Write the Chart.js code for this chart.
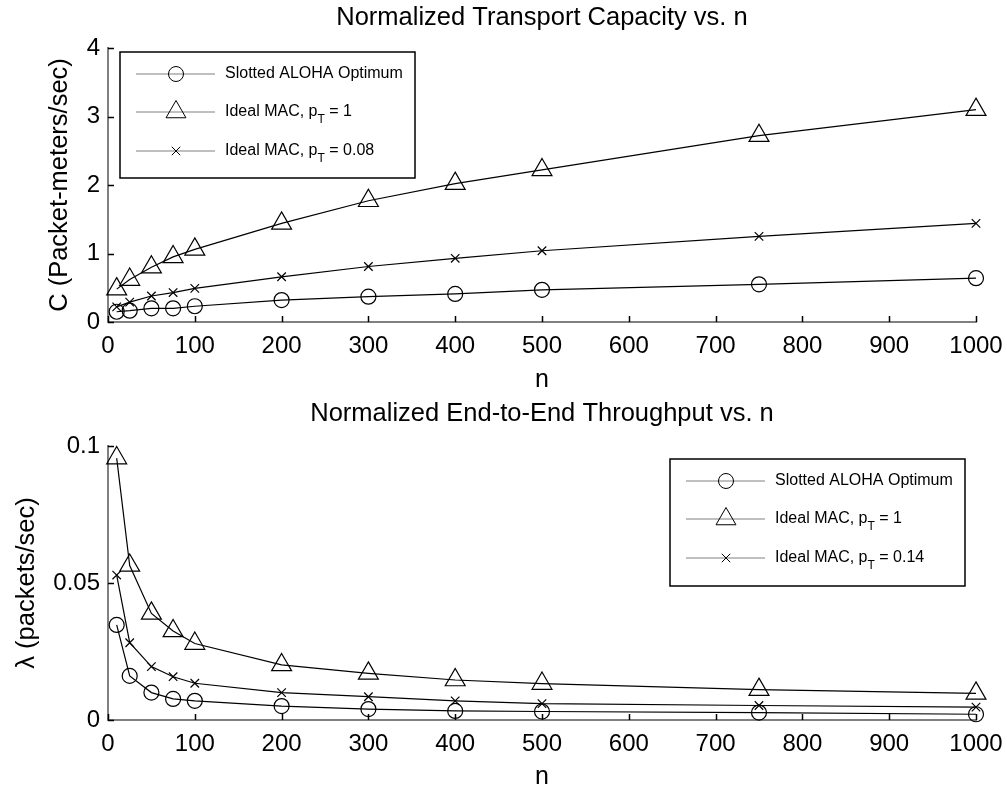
<!DOCTYPE html>
<html>
<head>
<meta charset="utf-8">
<title>Normalized Transport Capacity and Throughput vs. n</title>
<script src="https://cdn.jsdelivr.net/npm/chart.js@4.4.1/dist/chart.umd.min.js"></script>
<style>
    body { margin: 0; background: #ffffff; }
    #wrap { position: relative; width: 1007px; height: 790px; overflow: hidden; }
    canvas { position: absolute; left: 0; }
    #capChart { top: 0; }
    #thrChart { top: 398px; }
</style>
</head>
<body>
<div id="wrap">
    <canvas id="capChart" width="1007" height="395"></canvas>
    <canvas id="thrChart" width="1007" height="392"></canvas>
</div>
<script>
'use strict';

// number of nodes
const nValues = [10, 25, 50, 75, 100, 200, 300, 400, 500, 750, 1000];

// transport capacity (packet-meters/sec)
const capAloha = [0.15, 0.165, 0.20, 0.20, 0.23, 0.32, 0.37, 0.41, 0.47, 0.55, 0.64];
const capIdeal1 = [0.48, 0.62, 0.80, 0.95, 1.06, 1.44, 1.77, 2.02, 2.22, 2.72, 3.10];
const capIdeal008 = [0.22, 0.29, 0.38, 0.43, 0.49, 0.66, 0.81, 0.93, 1.04, 1.25, 1.44];

// end-to-end throughput (packets/sec)
const thrAloha = [0.0347, 0.0161, 0.0100, 0.0077, 0.0070, 0.0051, 0.0040, 0.0033, 0.0031, 0.0027, 0.0021];
const thrIdeal1 = [0.0956, 0.0564, 0.0389, 0.0325, 0.0279, 0.0201, 0.0170, 0.0146, 0.0133, 0.0111, 0.0097];
const thrIdeal014 = [0.0529, 0.0282, 0.0195, 0.0158, 0.0134, 0.0100, 0.0085, 0.0070, 0.0060, 0.0053, 0.0047];

// tick labels
const nTicks = [0, 100, 200, 300, 400, 500, 600, 700, 800, 900, 1000];
const capTicks = [0, 1, 2, 3, 4];
const thrTicks = [0, 0.05, 0.1];

// legend entries: [main text, subscript, rest]
const capLegend = [['Slotted ALOHA Optimum', '', ''], ['Ideal MAC, p', 'T', ' = 1'], ['Ideal MAC, p', 'T', ' = 0.08']];
const thrLegend = [['Slotted ALOHA Optimum', '', ''], ['Ideal MAC, p', 'T', ' = 1'], ['Ideal MAC, p', 'T', ' = 0.14']];

const FONT = 'Liberation Sans, Arial, Helvetica, sans-serif';
const markerStyles = [
    {style: 'circle', radius: 7.5},
    {style: 'triangle', radius: 11.5},
    {style: 'crossRot', radius: 6}
];

function toPoints(values) {
    return values.map((v, i) => ({x: nValues[i], y: v}));
}

function makeDataset(values, idx) {
    return {
        data: toPoints(values),
        borderColor: '#000000',
        borderWidth: 1.2,
        pointStyle: markerStyles[idx].style,
        pointRadius: markerStyles[idx].radius,
        pointHoverRadius: markerStyles[idx].radius,
        pointBorderColor: '#000000',
        pointBackgroundColor: 'rgba(0,0,0,0)',
        pointBorderWidth: 1.2,
        tension: 0,
        clip: false
    };
}

// small marker drawing for the legend
function drawMarker(ctx, style, x, y, r) {
    ctx.beginPath();
    if (style === 'circle') {
        ctx.arc(x, y, r, 0, Math.PI * 2);
    } else if (style === 'triangle') {
        let rad = 0;
        ctx.moveTo(x + Math.sin(rad) * r, y - Math.cos(rad) * r);
        rad += Math.PI * 2 / 3;
        ctx.lineTo(x + Math.sin(rad) * r, y - Math.cos(rad) * r);
        rad += Math.PI * 2 / 3;
        ctx.lineTo(x + Math.sin(rad) * r, y - Math.cos(rad) * r);
        ctx.closePath();
    } else {
        let d = Math.cos(Math.PI / 4) * r;
        ctx.moveTo(x - d, y - d);
        ctx.lineTo(x + d, y + d);
        ctx.moveTo(x + d, y - d);
        ctx.lineTo(x - d, y + d);
    }
    ctx.stroke();
}

// ticks pointing into the plot, like the original figure
const innerTicks = {
    id: 'innerTicks',
    afterDraw(chart) {
        const ctx = chart.ctx;
        const area = chart.chartArea;
        ctx.save();
        ctx.strokeStyle = '#000000';
        ctx.lineWidth = 1.5;
        ctx.beginPath();
        for (let t of chart.scales.x.ticks) {
            let px = Math.round(chart.scales.x.getPixelForValue(t.value)) + 0.5;
            ctx.moveTo(px, area.bottom);
            ctx.lineTo(px, area.bottom - 6);
        }
        for (let t of chart.scales.y.ticks) {
            let py = Math.round(chart.scales.y.getPixelForValue(t.value)) + 0.5;
            ctx.moveTo(area.left, py);
            ctx.lineTo(area.left + 6, py);
        }
        ctx.stroke();
        ctx.restore();
    }
};

// boxed legend inside the plot with subscripts
const boxLegend = {
    id: 'boxLegend',
    afterDraw(chart, args, opts) {
        const ctx = chart.ctx;
        const box = opts.box;
        const rows = [22, 60, 99];
        ctx.save();
        ctx.fillStyle = '#ffffff';
        ctx.fillRect(box.x, box.y, box.w, box.h);
        ctx.strokeStyle = '#000000';
        ctx.lineWidth = 1.5;
        ctx.strokeRect(box.x, box.y, box.w, box.h);

        opts.entries.forEach((entry, i) => {
            let y = box.y + rows[i];
            ctx.strokeStyle = '#808080';
            ctx.lineWidth = 1;
            ctx.beginPath();
            ctx.moveTo(box.x + 16, y);
            ctx.lineTo(box.x + 95, y);
            ctx.stroke();
            ctx.strokeStyle = '#000000';
            drawMarker(ctx, markerStyles[i].style, box.x + 56, y, markerStyles[i].radius);

            ctx.fillStyle = '#000000';
            ctx.textBaseline = 'middle';
            ctx.textAlign = 'left';
            let x = box.x + 105;
            ctx.font = '16px ' + FONT;
            ctx.fillText(entry[0], x, y);
            x += ctx.measureText(entry[0]).width;
            if (entry[1]) {
                ctx.font = '12px ' + FONT;
                ctx.fillText(entry[1], x, y + 8);
                x += ctx.measureText(entry[1]).width;
                ctx.font = '16px ' + FONT;
                ctx.fillText(entry[2], x, y);
            }
        });
        ctx.restore();
    }
};

function draw_chart(canvas_id, seriesList, cfg) {
    let ctx = document.getElementById(canvas_id).getContext('2d');
    return new Chart(ctx, {
        type: 'line',
        data: {
            datasets: seriesList.map((s, i) => makeDataset(s, i))
        },
        options: {
            responsive: false,
            animation: false,
            events: [],
            layout: {padding: {left: 0, right: 31, top: 0, bottom: 0}},
            plugins: {
                legend: {display: false},
                tooltip: {enabled: false},
                title: {
                    display: true,
                    fullSize: false,
                    text: cfg.title,
                    color: '#000000',
                    font: {family: FONT, size: 25.5, weight: 'normal', lineHeight: 1.2},
                    padding: cfg.titlePad
                },
                boxLegend: {box: cfg.legendBox, entries: cfg.legend}
            },
            scales: {
                x: {
                    type: 'linear',
                    min: 0,
                    max: 1000,
                    afterBuildTicks: (scale) => { scale.ticks = nTicks.map(v => ({value: v})); },
                    afterFit: (scale) => {
                        scale.height = cfg.xHeight;
                        scale.paddingLeft = 0;
                        scale.paddingRight = 0;
                    },
                    grid: {display: false, drawTicks: false},
                    border: {display: true, color: '#808080', width: 2},
                    ticks: {
                        color: '#000000', padding: 10, maxRotation: 0,
                        font: {family: FONT, size: 24},
                        callback: (v) => String(v)
                    },
                    title: {
                        display: true,
                        text: 'n',
                        color: '#000000',
                        font: {family: FONT, size: 25, lineHeight: 1.0},
                        padding: {top: 0, bottom: cfg.nPad}
                    }
                },
                y: {
                    type: 'linear',
                    min: cfg.yMin,
                    max: cfg.yMax,
                    afterBuildTicks: (scale) => { scale.ticks = cfg.yTicks.map(v => ({value: v})); },
                    afterFit: (scale) => { scale.width = 108; },
                    grid: {display: false, drawTicks: false},
                    border: {display: true, color: '#808080', width: 2},
                    ticks: {
                        color: '#000000', padding: 8,
                        font: {family: FONT, size: 24},
                        callback: (v) => String(v)
                    },
                    title: {
                        display: true,
                        text: cfg.yTitle,
                        color: '#000000',
                        font: {family: FONT, size: 25.5, lineHeight: 1.2},
                        padding: {top: cfg.yTitlePad, bottom: 0}
                    }
                }
            }
        },
        plugins: [innerTicks, boxLegend]
    });
}

draw_chart('capChart', [capAloha, capIdeal1, capIdeal008], {
    title: 'Normalized Transport Capacity vs. n',
    titlePad: {top: 3, bottom: 14.4},
    yTitle: 'C (Packet-meters/sec)',
    yTitlePad: 44.5,
    yMin: 0, yMax: 4, yTicks: capTicks,
    xHeight: 73, nPad: 2.5,
    legendBox: {x: 120, y: 52, w: 295, h: 126},
    legend: capLegend
});

draw_chart('thrChart', [thrAloha, thrIdeal1, thrIdeal014], {
    title: 'Normalized End-to-End Throughput vs. n',
    titlePad: {top: 1, bottom: 16.4},
    yTitle: 'λ (packets/sec)',
    yTitlePad: 12,
    yMin: 0, yMax: 0.1, yTicks: thrTicks,
    xHeight: 70, nPad: 0.5,
    legendBox: {x: 670, y: 61, w: 295, h: 127},
    legend: thrLegend
});
</script>
</body>
</html>
